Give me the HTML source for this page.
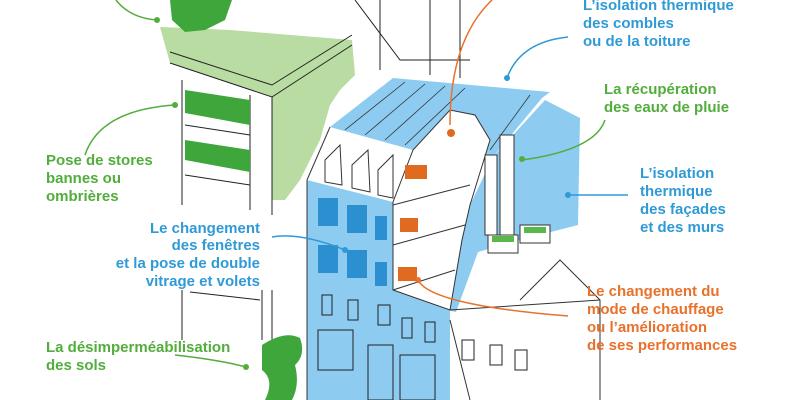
<!DOCTYPE html>
<html><head><meta charset="utf-8"><style>
html,body{margin:0;padding:0;background:#fff;}
svg{display:block}
text{font-family:"Liberation Sans",sans-serif;font-weight:bold;font-size:15px}
.g{fill:#52ad3c}.b{fill:#2f9ad6}.o{fill:#e8712b}
</style></head><body>
<svg width="800" height="400" viewBox="0 0 800 400" xmlns="http://www.w3.org/2000/svg">
<polygon points="160,27 230,30 352,40 355,75 340,90 330,105 320,140 300,180 285,200 272,200 272,97 170,63" fill="#b8dca2"/>
<g stroke="#222" stroke-width="1" fill="none">
<polyline points="170,63 272,97 352,45"/>
<polyline points="170,52 272,85 352,35"/>
<line x1="272" y1="97" x2="272" y2="215"/><line x1="272" y1="290" x2="272" y2="400"/>
<line x1="182" y1="80" x2="182" y2="205"/><line x1="182" y1="290" x2="182" y2="340"/>
<line x1="250" y1="95" x2="250" y2="210"/><line x1="262" y1="290" x2="262" y2="340"/>
<line x1="185" y1="125" x2="250" y2="135"/><line x1="185" y1="175" x2="250" y2="185"/>
<line x1="190" y1="292" x2="260" y2="300"/>
<polyline points="355,0 400,60 470,60"/><line x1="380" y1="0" x2="380" y2="70"/>
<line x1="430" y1="0" x2="430" y2="75"/><line x1="460" y1="0" x2="460" y2="78"/>
</g>
<path d="M170,0 L232,0 L225,20 L205,30 L185,32 L172,20 Z" fill="#3ea63b"/>
<polygon points="185,90 250,100 250,125 185,113" fill="#3ea63b"/>
<polygon points="185,140 250,150 250,172 185,160" fill="#3ea63b"/>
<path d="M262,345 Q285,330 300,338 Q306,355 295,365 Q300,385 292,400 L265,400 Q275,380 262,370 Z" fill="#3ea63b"/>
<polygon points="330,127 393,78 550,92 542,98 493,157 413,150" fill="#8ecbf1"/>
<g stroke="#333" stroke-width="0.8">
<line x1="345" y1="130" x2="405" y2="82"/><line x1="365" y1="135" x2="425" y2="84"/>
<line x1="385" y1="140" x2="445" y2="86"/><line x1="405" y1="145" x2="465" y2="88"/>
<line x1="490" y1="150" x2="530" y2="95"/>
</g>
<polygon points="307,180 393,202 393,290 450,310 450,400 307,400" fill="#8ecbf1"/>
<polygon points="493,157 545,100 580,118 578,225 520,240 478,252 456,312 447,310 462,240 470,205" fill="#8ecbf1"/>
<polygon points="393,202 413,150 450,110 475,115 490,140 470,205 462,240 450,310 393,290" fill="#fff" stroke="#333" stroke-width="1"/>
<g stroke="#333" stroke-width="1" fill="none">
<line x1="393" y1="205" x2="470" y2="185"/><line x1="393" y1="245" x2="465" y2="225"/>
<line x1="393" y1="290" x2="455" y2="270"/>
<rect x="500" y="135" width="14" height="110" fill="#fff"/>
<rect x="485" y="155" width="12" height="80" fill="#fff"/>
<rect x="488" y="235" width="30" height="18" fill="#fff"/><rect x="520" y="225" width="30" height="18" fill="#fff"/>
<polyline points="307,180 307,400"/><polyline points="307,180 330,127"/>
<polyline points="450,310 600,300"/><polyline points="450,320 470,400"/>
<polyline points="520,300 560,260 600,300 600,400"/>
</g>
<rect x="492" y="236" width="22" height="6" fill="#5ab84a"/><rect x="524" y="227" width="22" height="6" fill="#5ab84a"/>
<g stroke="#333" fill="#fff" stroke-width="1">
<polygon points="325,160 340,145 342,185 325,182"/><polygon points="352,165 368,150 370,192 352,188"/><polygon points="378,170 393,155 393,198 378,195"/>
</g>
<g fill="#2c8fd0">
<rect x="318" y="198" width="20" height="28"/><rect x="347" y="205" width="20" height="28"/><rect x="375" y="216" width="12" height="24"/>
<rect x="318" y="245" width="20" height="28"/><rect x="347" y="250" width="20" height="28"/><rect x="375" y="262" width="12" height="24"/>
</g>
<g stroke="#222" fill="none" stroke-width="1">
<rect x="322" y="295" width="10" height="20"/><rect x="348" y="300" width="10" height="20"/><rect x="378" y="305" width="12" height="20"/>
<rect x="402" y="318" width="10" height="20"/><rect x="425" y="322" width="10" height="20"/>
<rect x="318" y="330" width="35" height="40"/><rect x="368" y="345" width="25" height="55"/><rect x="400" y="355" width="35" height="45"/>
<rect x="462" y="340" width="12" height="20"/><rect x="490" y="345" width="12" height="20"/><rect x="515" y="350" width="12" height="20"/>
</g>
<g fill="#e06a20">
<rect x="405" y="165" width="22" height="14"/><rect x="400" y="218" width="18" height="14"/><rect x="398" y="267" width="19" height="14"/>
<circle cx="451" cy="133" r="4"/>
</g>
<g fill="none" stroke-width="1.5">
<path d="M116,0 Q130,18 157,20" stroke="#52ad3c"/>
<path d="M85,155 Q100,110 175,105" stroke="#52ad3c"/>
<path d="M175,355 Q220,360 246,367" stroke="#52ad3c"/>
<path d="M272,237 Q300,232 345,250" stroke="#2f9ad6"/>
<path d="M507,78 Q520,42 568,37" stroke="#2f9ad6"/>
<path d="M522,160 Q595,150 605,120" stroke="#52ad3c"/>
<path d="M568,195 L628,195" stroke="#2f9ad6"/>
<path d="M450,125 Q450,40 492,0" stroke="#e8712b"/>
<path d="M418,280 Q430,305 568,316" stroke="#e8712b"/>
</g>
<g>
<circle cx="157" cy="20" r="3" fill="#52ad3c"/><circle cx="175" cy="105" r="3" fill="#52ad3c"/>
<circle cx="246" cy="367" r="3" fill="#52ad3c"/><circle cx="345" cy="250" r="3" fill="#2f9ad6"/>
<circle cx="507" cy="78" r="3" fill="#2f9ad6"/><circle cx="522" cy="159" r="3" fill="#52ad3c"/>
<circle cx="568" cy="195" r="3" fill="#2f9ad6"/><circle cx="418" cy="280" r="3" fill="#e8712b"/>
</g>
<text class="g" x="46" y="165">Pose de stores</text>
<text class="g" x="46" y="183">bannes ou</text>
<text class="g" x="46" y="201">ombrières</text>
<text class="g" x="46" y="352">La désimperméabilisation</text>
<text class="g" x="46" y="370">des sols</text>
<g text-anchor="end">
<text class="b" x="260" y="233">Le changement</text>
<text class="b" x="260" y="250">des fenêtres</text>
<text class="b" x="260" y="268">et la pose de double</text>
<text class="b" x="260" y="286">vitrage et volets</text>
</g>
<text class="b" x="583" y="10">L’isolation thermique</text>
<text class="b" x="583" y="28">des combles</text>
<text class="b" x="583" y="46">ou de la toiture</text>
<text class="g" x="604" y="94">La récupération</text>
<text class="g" x="604" y="112">des eaux de pluie</text>
<text class="b" x="640" y="178">L’isolation</text>
<text class="b" x="640" y="196">thermique</text>
<text class="b" x="640" y="214">des façades</text>
<text class="b" x="640" y="232">et des murs</text>
<text class="o" x="587" y="296">Le changement du</text>
<text class="o" x="587" y="314">mode de chauffage</text>
<text class="o" x="587" y="332">ou l’amélioration</text>
<text class="o" x="587" y="350">de ses performances</text>
</svg>
</body></html>
